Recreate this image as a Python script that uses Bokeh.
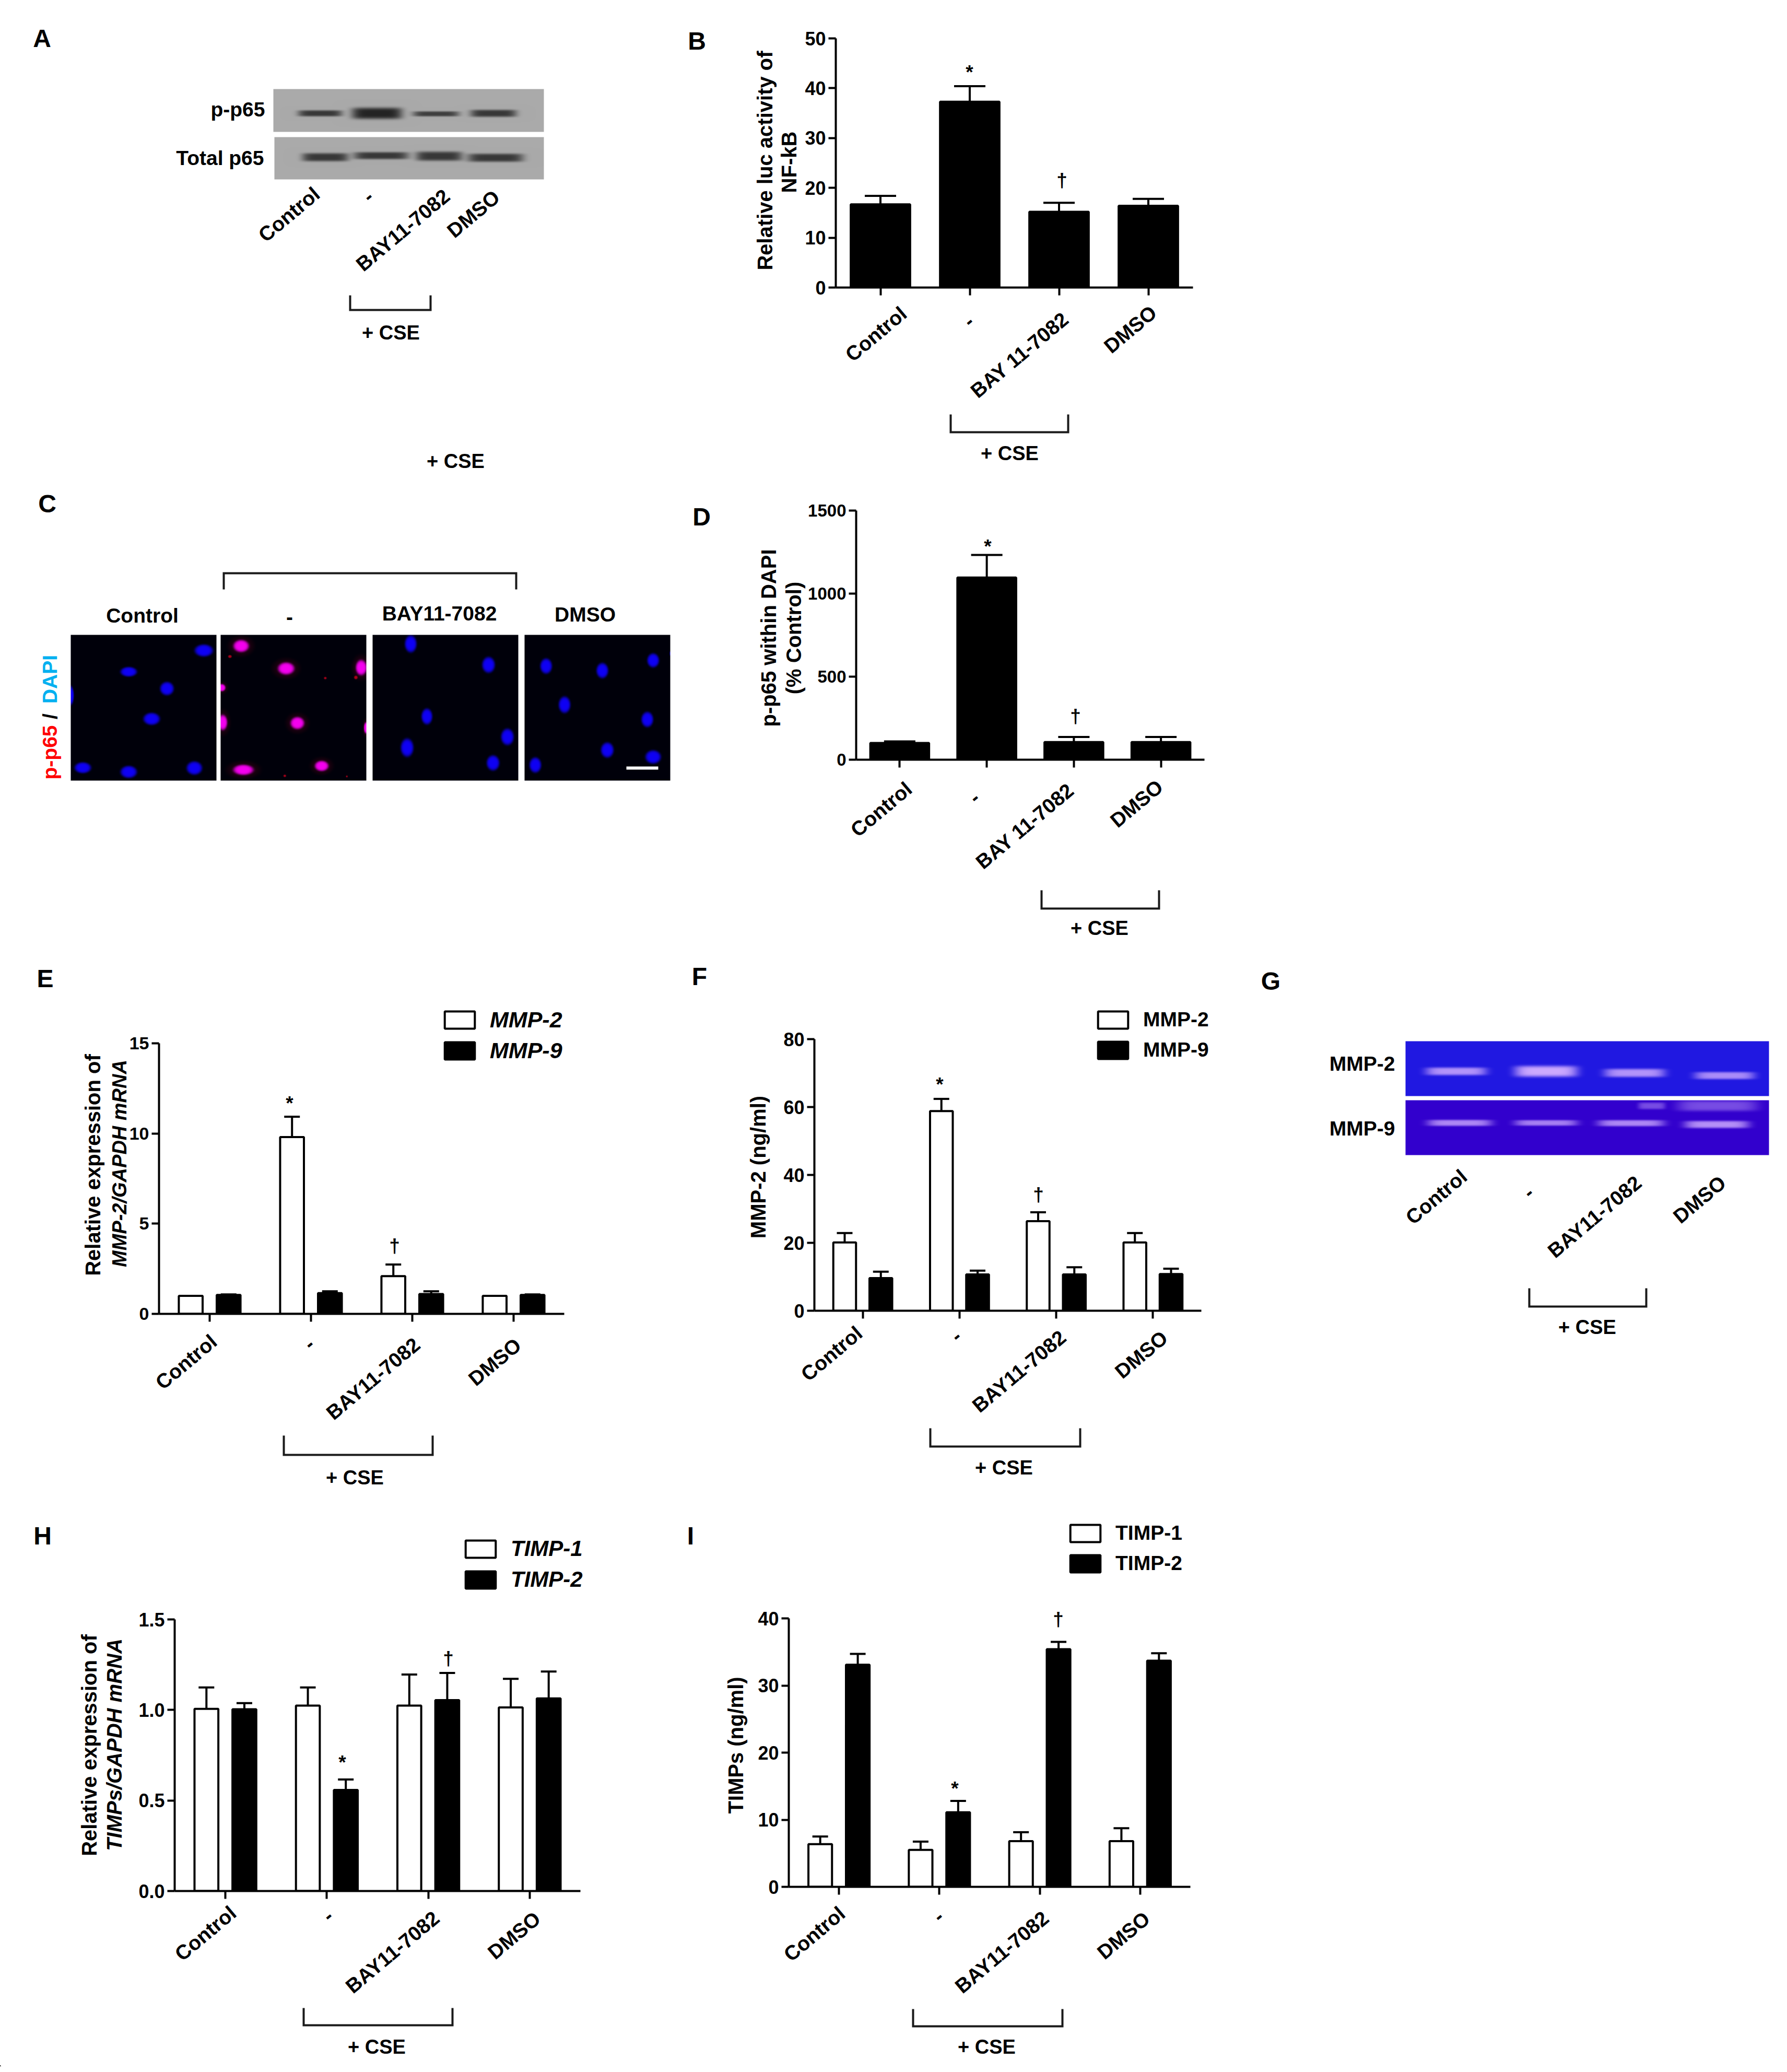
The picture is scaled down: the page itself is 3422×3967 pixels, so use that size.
import numpy as np
from bokeh.embed import file_html
from bokeh.layouts import column, row
from bokeh.models import (ColumnDataSource, FixedTicker, Label, Legend, LegendItem,
                          Range1d, Spacer, TeeHead, Whisker)
from bokeh.plotting import figure
from bokeh.resources import INLINE

# ---------- data ----------
ticks_a = ["Control", "-", "BAY11-7082", "DMSO"]
ticks_b = ["Control", "-", "BAY 11-7082", "DMSO"]

b_values = [16.7, 37.3, 15.2, 16.4]
b_tops = [18.4, 40.4, 17.0, 17.8]
d_values = [101, 1097, 106, 106]
d_tops = [110, 1233, 137, 137]

e_mmp2 = [1.0, 9.8, 2.09, 1.0]
e_mmp2_tops = [1.0, 10.93, 2.74, 1.0]
e_mmp9 = [1.05, 1.15, 1.1, 1.05]
e_mmp9_tops = [1.08, 1.25, 1.25, 1.08]

f_mmp2 = [20.1, 58.8, 26.4, 20.1]
f_mmp2_tops = [22.9, 62.4, 29.0, 22.9]
f_mmp9 = [9.6, 10.7, 10.7, 10.8]
f_mmp9_tops = [11.5, 11.8, 12.8, 12.4]

h_timp1 = [1.006, 1.024, 1.024, 1.014]
h_timp1_tops = [1.124, 1.124, 1.196, 1.172]
h_timp2 = [1.004, 0.558, 1.054, 1.064]
h_timp2_tops = [1.038, 0.616, 1.204, 1.212]

i_timp1 = [6.36, 5.5, 6.8, 6.8]
i_timp1_tops = [7.5, 6.74, 8.14, 8.73]
i_timp2 = [33.1, 11.1, 35.4, 33.7]
i_timp2_tops = [34.7, 12.8, 36.5, 34.8]

# ---------- page geometry (page pixels) ----------
FONT = "Liberation Sans"
TICK = "36px"
XTICK = "39px"
LAB = "39px"
YLAB = "40px"
CSE = "38px"
LETTER = "48px"
MARK = "37px"
PAGE_W, PAGE_H = 3414, 3956
ROWS = [(0, 905), (905, 905), (1810, 1070), (2880, 1076)]
ANGLE = 40

# One transparent page-sized sheet on top of the charts carries everything that lies
# outside a chart's frame (centre annotations are clipped to the frame).
sheet = figure(width=PAGE_W, height=PAGE_H, x_range=Range1d(0, PAGE_W), y_range=Range1d(0, PAGE_H),
               toolbar_location=None, output_backend="svg", outline_line_color=None, min_border=0,
               x_axis_type=None, y_axis_type=None, border_fill_color=None, background_fill_color=None,
               margin=(-PAGE_H, 0, 0, 0), frame_align=False)
sheet.grid.visible = False


def put(X, Y, s, size=LAB, style="bold", angle=0, align="center", color="black"):
    sheet.add_layout(Label(x=X, y=PAGE_H - Y, x_units="data", y_units="data",
                           text=s, text_font=FONT, text_font_size=size, text_font_style=style,
                           text_color=color, text_align=align, text_baseline="middle",
                           angle=angle, angle_units="deg"))


def bracket(xl, xr, yt, yb, up=True, t=4):
    if up:
        pts = [(xl, yt), (xl + t, yt), (xl + t, yb - t), (xr - t, yb - t), (xr - t, yt), (xr, yt), (xr, yb), (xl, yb)]
    else:
        pts = [(xl, yb), (xl + t, yb), (xl + t, yt + t), (xr - t, yt + t), (xr - t, yb), (xr, yb), (xr, yt), (xl, yt)]
    sheet.patch([a for a, _ in pts], [PAGE_H - b for _, b in pts], fill_color="#1a1a1a", line_color=None)


def axes_panel(cell, xl, xr, yt, yb, ymax, yticks, ylabels, tick_size=TICK):
    cx, cy, cw, ch = cell
    p = figure(width=cw, height=ch, x_range=Range1d(-0.5, 3.5), y_range=Range1d(0, ymax),
               toolbar_location=None, output_backend="svg", outline_line_color=None, frame_align=False,
               min_border_left=xl - cx, min_border_right=cx + cw - xr,
               min_border_top=yt - cy, min_border_bottom=cy + ch - yb)
    p.grid.visible = False
    for ax in (p.xaxis[0], p.yaxis[0]):
        ax.axis_line_width = 4
        ax.major_tick_line_width = 4
        ax.major_tick_in = 0
        ax.minor_tick_line_color = None
        ax.major_label_text_font = FONT
        ax.major_label_text_font_style = "bold"
        ax.major_label_text_color = "black"
    p.xaxis[0].ticker = FixedTicker(ticks=[0, 1, 2, 3])
    p.xaxis[0].major_label_text_color = None
    p.xaxis[0].major_label_overrides = {i: "" for i in range(4)}
    p.xaxis[0].major_tick_out = 15
    p.yaxis[0].ticker = FixedTicker(ticks=yticks)
    p.yaxis[0].major_label_overrides = dict(zip(yticks, ylabels))
    p.yaxis[0].major_label_text_font_size = tick_size
    p.yaxis[0].major_label_standoff = 5
    p.yaxis[0].major_tick_out = 14
    return p


def bars(p, xs, values, tops, fill, width, cap):
    p.vbar(x=xs, top=values, bottom=0, width=width, fill_color=fill, line_color="black", line_width=4)
    src = ColumnDataSource(dict(x=xs, lo=values, hi=tops))
    p.add_layout(Whisker(source=src, base="x", lower="lo", upper="hi", dimension="height",
                         line_color="black", line_width=4, lower_head=None,
                         upper_head=TeeHead(size=cap, line_width=4, line_color="black")))


def pair(p, white, white_tops, black, black_tops, off=0.187, cap=30):
    x = np.arange(4)
    bars(p, list(x - off), white, white_tops, "white", 0.235, cap)
    bars(p, list(x + off), black, black_tops, "black", 0.235, cap)


def legend(n1, n2, swatch_x, bottom, style, size, gap=14):
    # the key swatch is inset by 10% of its box: 72x41 gives 58x33
    r1 = sheet.vbar(x=[-500], top=[-500], bottom=-600, width=10, fill_color="white", line_color="black", line_width=4)
    r2 = sheet.vbar(x=[-500], top=[-500], bottom=-600, width=10, fill_color="black", line_color="black", line_width=4)
    sheet.add_layout(Legend(items=[LegendItem(label=n1, renderers=[r1]), LegendItem(label=n2, renderers=[r2])],
                            location=(swatch_x - 7, PAGE_H - bottom), orientation="vertical",
                            padding=0, margin=0, spacing=gap, glyph_width=72, glyph_height=41, label_standoff=22,
                            border_line_color=None, background_fill_alpha=0,
                            label_text_font=FONT, label_text_font_size=size, label_text_font_style=style,
                            label_text_color="black"))


def raster(w, h, bg, spots, flat=False):
    """Soft-edged spots over a flat ground; spots = (cx, cy, rx, ry, rgb, alpha)."""
    yy, xx = np.mgrid[0:h, 0:w]
    img = np.ones((h, w, 3)) * np.array(bg, dtype=float)
    for cx, cy, rx, ry, rgb, a in spots:
        if flat:
            m = a * np.exp(-((xx - cx) / rx) ** 6) * np.exp(-((yy - cy) / ry) ** 4)
        else:
            m = a * np.exp(-(((xx - cx) / rx) ** 2 + ((yy - cy) / ry) ** 2) ** 3)
        img = img * (1 - m[..., None]) + np.array(rgb, dtype=float) * m[..., None]
    out = np.zeros((h, w, 4), dtype=np.uint8)
    out[..., :3] = np.clip(img, 0, 255).astype(np.uint8)
    out[..., 3] = 255
    return out.view(np.uint32).reshape(h, w)[::-1]


def put_image(X, Y, w, h, bg, spots, flat=False):
    sheet.image_rgba(image=[raster(w, h, bg, spots, flat)], x=[X], y=[PAGE_H - Y - h], dw=[w], dh=[h])


def xlabels(centres, labels, size=XTICK):
    for (x, y), s in zip(centres, labels):
        put(x, y, s, size, angle=ANGLE)


# ---------- A ----------
DARK = (35, 35, 35)
blot1 = [(612, 216, 42, 6, DARK, 0.85), (721, 216, 48, 11, DARK, 1.0), (834, 217, 44, 5, DARK, 0.8), (944, 216, 44, 7, DARK, 0.85)]
blot2 = [(622, 300, 44, 8, DARK, 0.85), (729, 297, 52, 7, DARK, 0.85), (840, 298, 44, 9, DARK, 0.85), (948, 301, 53, 8, DARK, 0.85)]
put_image(523, 170, 518, 82, (170, 170, 170), [(a - 523, b - 170, c, d, e, f) for a, b, c, d, e, f in blot1], True)
put_image(525, 262, 516, 81, (170, 170, 170), [(a - 525, b - 262, c, d, e, f) for a, b, c, d, e, f in blot2], True)
put(80, 73, "A", LETTER)
put(507, 209, "p-p65", LAB, align="right")
put(505, 302, "Total p65", LAB, align="right")
xlabels([(553, 410), (704, 375), (771, 440), (906, 409)], ticks_a)
bracket(668, 826, 565, 595)
put(748, 636, "+ CSE", CSE)
put(872, 882, "+ CSE", CSE)

# ---------- B ----------
B = axes_panel((1270, ROWS[0][0], 2144, ROWS[0][1]), 1600, 2284, 73, 550, 50, [0, 10, 20, 30, 40, 50],
               ["0", "10", "20", "30", "40", "50"])
bars(B, [0, 1, 2, 3], b_values, b_tops, "black", 0.665, 60)
put(1334, 78, "B", LETTER)
put(1464, 307, "Relative luc activity of", YLAB, angle=90)
put(1510, 310, "NF-kB", YLAB, angle=90)
put(1856, 138, "*", MARK)
put(2033, 345, "†", MARK)
xlabels([(1677, 639), (1854, 614), (1952, 679), (2164, 630)], ticks_b)
bracket(1818, 2047, 793, 829)
put(1933, 867, "+ CSE", CSE)

# ---------- C ----------
BLUE = (15, 0, 245)
PINK = (245, 0, 240)
SX, SY = 1.161, 1.742
nuclei_1 = [(452, 600, 20, 20), (285, 671, 18, 16), (370, 727, 15, 22), (336, 828, 18, 20),
            (183, 991, 18, 18), (285, 1005, 18, 20), (431, 992, 17, 22), (157, 750, 6, 30)]
nuclei_2 = [(535, 585, 17, 20), (635, 660, 18, 20), (802, 657, 12, 25), (660, 842, 15, 20),
            (494, 840, 10, 25), (540, 998, 22, 17), (714, 985, 15, 17), (492, 724, 8, 12), (812, 858, 4, 18)]
nuclei_3 = [(912, 578, 13, 28), (1085, 648, 14, 26), (948, 820, 12, 26), (1127, 888, 14, 27),
            (904, 924, 14, 30), (1095, 975, 14, 25)]
nuclei_4 = [(1213, 652, 13, 25), (1338, 667, 13, 25), (1451, 633, 13, 23), (1254, 781, 13, 27),
            (1438, 830, 13, 25), (1349, 932, 14, 25), (1451, 955, 17, 22), (1189, 982, 13, 25), (1490, 610, 2, 10)]
red_specks = [(722, 692, 3, 4), (632, 1018, 3, 4), (770, 1020, 2, 3), (510, 620, 4, 5), (790, 690, 4, 6)]
panel_x = [135, 422, 713, 1004]
for px, nuc, col in zip(panel_x, [nuclei_1, nuclei_2, nuclei_3, nuclei_4], [BLUE, PINK, BLUE, BLUE]):
    spots = []
    if col == PINK:
        spots += [(zx / SX - px, 900 + zy / SY - 1215, 1.7 * rx / SX, 1.7 * ry / SY, (110, 0, 30), 0.25) for zx, zy, rx, ry in nuc]
        spots += [(zx / SX - px, 900 + zy / SY - 1215, rx / SX, ry / SY, (210, 0, 30), 0.8) for zx, zy, rx, ry in red_specks]
    spots += [(zx / SX - px, 900 + zy / SY - 1215, rx / SX, ry / SY, col, 1.0) for zx, zy, rx, ry in nuc]
    put_image(px, 1215, 279, 279, (0, 0, 10), spots)
sheet.quad(left=[1199], right=[1260], top=[PAGE_H - 1467], bottom=[PAGE_H - 1473], fill_color="white", line_color=None)
put(90, 964, "C", LETTER)
bracket(426, 990, 1095, 1128, up=False)
for (x, y), s in zip([(272, 1178), (554, 1181), (841, 1174), (1120, 1176)], ticks_a):
    put(x, y, s, LAB)
put(95, 1440, "p-p65", LAB, angle=90, color="#ff0000")
put(95, 1371, "/", LAB, angle=90)
put(95, 1300, "DAPI", LAB, angle=90, color="#00b0f0")

# ---------- D ----------
D = axes_panel((1300, ROWS[1][0], 2114, ROWS[1][1]), 1639, 2306, 977, 1454, 1500, [0, 500, 1000, 1500],
               ["0", "500", "1000", "1500"], tick_size="33px")
bars(D, [0, 1, 2, 3], d_values, d_tops, "black", 0.675, 60)
put(1343, 989, "D", LETTER)
put(1471, 1221, "p-p65 within DAPI", YLAB, angle=90)
put(1519, 1221, "(% Control)", YLAB, angle=90)
put(1891, 1046, "*", MARK)
put(2059, 1371, "†", MARK)
xlabels([(1687, 1549), (1865, 1526), (1962, 1581), (2176, 1538)], ticks_b)
bracket(1992, 2221, 1704, 1741)
put(2105, 1776, "+ CSE", CSE)

# ---------- E ----------
E = axes_panel((0, ROWS[2][0], 1300, ROWS[2][1]), 304, 1080, 1997, 2515, 15, [0, 5, 10, 15],
               ["0", "5", "10", "15"], tick_size="34px")
pair(E, e_mmp2, e_mmp2_tops, e_mmp9, e_mmp9_tops)
legend("MMP-2", "MMP-9", 851, 2036, "bold italic", "43px", gap=10)
put(86, 1873, "E", LETTER)
put(177, 2230, "Relative expression of", YLAB, angle=90)
put(228, 2227, "MMP-2/GAPDH mRNA", "38px", style="bold italic", angle=90)
put(554, 2112, "*", MARK)
put(755, 2385, "†", MARK)
xlabels([(356, 2607), (591, 2572), (714, 2639), (947, 2607)], ticks_a)
bracket(541, 830, 2748, 2787)
put(679, 2828, "+ CSE", CSE)

# ---------- F ----------
F = axes_panel((1300, ROWS[2][0], 1050, ROWS[2][1]), 1559, 2300, 1989, 2509, 80, [0, 20, 40, 60, 80],
               ["0", "20", "40", "60", "80"])
pair(F, f_mmp2, f_mmp2_tops, f_mmp9, f_mmp9_tops)
legend("MMP-2", "MMP-9", 2102, 2032, "bold", "39px")
put(1339, 1869, "F", LETTER)
put(1451, 2234, "MMP-2 (ng/ml)", YLAB, angle=90)
put(1799, 2076, "*", MARK)
put(1988, 2287, "†", MARK)
xlabels([(1592, 2591), (1830, 2557), (1951, 2625), (2185, 2593)], ticks_a)
bracket(1779, 2070, 2734, 2771)
put(1922, 2809, "+ CSE", CSE)

# ---------- G ----------
GX, GY = 1.4627, 1.96
LILAC = (205, 170, 255)
gel1 = [(640, 490, 85, 15, 0.85), (892, 490, 88, 21, 1.0), (1140, 496, 85, 16, 0.85), (1392, 506, 84, 14, 0.8)]
gel2 = [(650, 684, 90, 12, 0.8), (892, 684, 88, 11, 0.75), (1130, 685, 93, 12, 0.8), (1370, 690, 90, 14, 0.85),
        (1188, 620, 38, 13, 0.45), (1372, 620, 112, 20, 0.45)]
to_g1 = [((a - 499) / GX, (b - 378) / GY, c / GX, d / GY, LILAC, e) for a, b, c, d, e in gel1]
to_g2 = [((a - 499) / GX, (b - 600) / GY, c / GX, d / GY, LILAC, e) for a, b, c, d, e in gel2]
put_image(2691, 1993, 696, 105, (32, 24, 225), to_g1, True)
put_image(2691, 2106, 696, 105, (50, 0, 205), to_g2, True)
put(2433, 1878, "G", LETTER)
put(2671, 2036, "MMP-2", LAB, align="right")
put(2671, 2160, "MMP-9", LAB, align="right")
xlabels([(2750, 2291), (2926, 2282), (3053, 2329), (3254, 2296)], ticks_a)
bracket(2926, 3154, 2466, 2503)
put(3039, 2540, "+ CSE", CSE)

# ---------- H ----------
H = axes_panel((0, ROWS[3][0], 1250, ROWS[3][1]), 334, 1111, 3100, 3620, 1.5, [0, 0.5, 1, 1.5],
               ["0.0", "0.5", "1.0", "1.5"])
pair(H, h_timp1, h_timp1_tops, h_timp2, h_timp2_tops)
legend("TIMP-1", "TIMP-2", 891, 3048, "bold italic", "42px", gap=11)
put(81, 2940, "H", LETTER)
put(170, 3341, "Relative expression of", YLAB, angle=90)
put(218, 3340, "TIMPs/GAPDH mRNA", YLAB, style="bold italic", angle=90)
put(655, 3374, "*", MARK)
put(858, 3175, "†", MARK)
xlabels([(393, 3701), (627, 3667), (751, 3737), (984, 3705)], ticks_a)
bracket(579, 868, 3844, 3879)
put(721, 3918, "+ CSE", CSE)

# ---------- I ----------
I = axes_panel((1250, ROWS[3][0], 2164, ROWS[3][1]), 1510, 2279, 3098, 3612, 40, [0, 10, 20, 30, 40],
               ["0", "10", "20", "30", "40"])
pair(I, i_timp1, i_timp1_tops, i_timp2, i_timp2_tops)
legend("TIMP-1", "TIMP-2", 2049, 3015, "bold", "39px")
put(1322, 2940, "I", LETTER)
put(1408, 3341, "TIMPs (ng/ml)", YLAB, angle=90)
put(1828, 3424, "*", MARK)
put(2026, 3100, "†", MARK)
xlabels([(1559, 3702), (1796, 3668), (1918, 3737), (2151, 3705)], ticks_a)
bracket(1746, 2036, 3846, 3881)
put(1889, 3918, "+ CSE", CSE)

page = column(row(Spacer(width=1270, height=ROWS[0][1]), B, spacing=0),
              row(Spacer(width=1300, height=ROWS[1][1]), D, spacing=0),
              row(E, F, spacing=0),
              row(H, I, spacing=0),
              sheet, spacing=0)
open("out.html", "w").write(file_html(page, INLINE))
